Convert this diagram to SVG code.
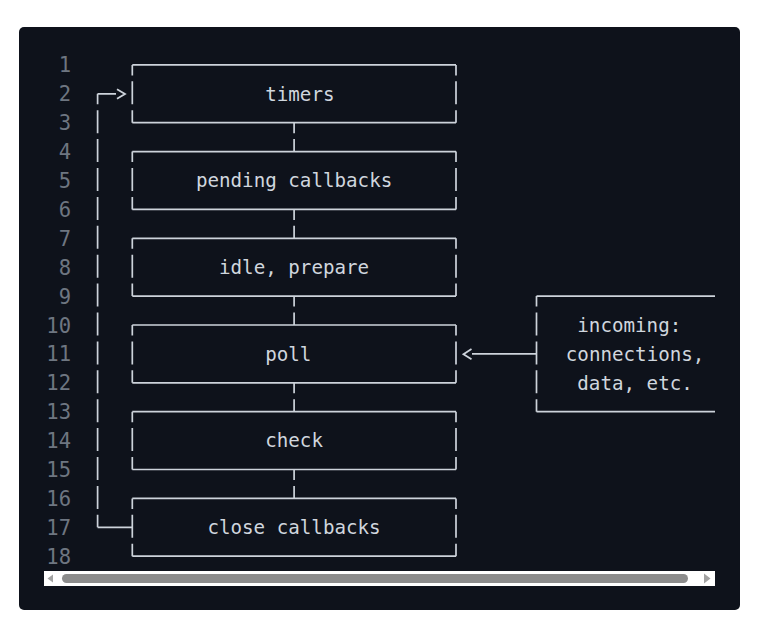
<svg xmlns="http://www.w3.org/2000/svg" width="765" height="636" viewBox="0 0 765 636">
<style>
.bg{fill:#0e121b}
.ln{font-family:"DejaVu Sans Mono","Liberation Mono",monospace;font-size:20.5px;fill:#6e7681;text-anchor:end}
.t{font-family:"DejaVu Sans Mono","Liberation Mono",monospace;font-size:19.2px;fill:#d0d6de}
.h{stroke:#cdd3db;stroke-width:1.7;fill:none}
.v{stroke:#cdd3db;stroke-width:1.7;fill:none;stroke-dasharray:23 5.9;stroke-dashoffset:12.5}
.ar{stroke:#cdd3db;stroke-width:1.8;fill:none;stroke-linejoin:miter}
</style>
<rect x="0" y="0" width="765" height="636" fill="#ffffff"/>
<rect class="bg" x="19" y="27" width="721" height="583" rx="5"/>
<g id="line-numbers">
<text class="ln" x="71" y="72.4">1</text>
<text class="ln" x="71" y="101.3">2</text>
<text class="ln" x="71" y="130.2">3</text>
<text class="ln" x="71" y="159.1">4</text>
<text class="ln" x="71" y="188">5</text>
<text class="ln" x="71" y="216.9">6</text>
<text class="ln" x="71" y="245.8">7</text>
<text class="ln" x="71" y="274.7">8</text>
<text class="ln" x="71" y="303.6">9</text>
<text class="ln" x="71" y="332.5">10</text>
<text class="ln" x="71" y="361.4">11</text>
<text class="ln" x="71" y="390.3">12</text>
<text class="ln" x="71" y="419.2">13</text>
<text class="ln" x="71" y="448.1">14</text>
<text class="ln" x="71" y="477">15</text>
<text class="ln" x="71" y="505.9">16</text>
<text class="ln" x="71" y="534.8">17</text>
<text class="ln" x="71" y="563.7">18</text>
</g>
<g id="timers">
<path class="h" d="M132.3 64.9H456M132.3 122.7H456"/>
<path class="v" d="M132.3 64.9V122.7M456 64.9V122.7"/>
<text class="t" x="265.2" y="100.6">timers</text>
</g>
<g id="pending-callbacks">
<path class="h" d="M132.3 151.6H456M132.3 209.4H456"/>
<path class="v" d="M132.3 151.6V209.4M456 151.6V209.4"/>
<text class="t" x="195.9" y="187.3">pending callbacks</text>
</g>
<g id="idle-prepare">
<path class="h" d="M132.3 238.3H456M132.3 296.1H456"/>
<path class="v" d="M132.3 238.3V296.1M456 238.3V296.1"/>
<text class="t" x="219" y="274">idle, prepare</text>
</g>
<g id="poll">
<path class="h" d="M132.3 325H456M132.3 382.8H456"/>
<path class="v" d="M132.3 325V382.8M456 325V382.8"/>
<text class="t" x="265.2" y="360.7">poll</text>
</g>
<g id="check">
<path class="h" d="M132.3 411.7H456M132.3 469.5H456"/>
<path class="v" d="M132.3 411.7V469.5M456 411.7V469.5"/>
<text class="t" x="265.2" y="447.4">check</text>
</g>
<g id="close-callbacks">
<path class="h" d="M132.3 498.4H456M132.3 556.2H456"/>
<path class="v" d="M132.3 498.4V556.2M456 498.4V556.2"/>
<text class="t" x="207.4" y="534.1">close callbacks</text>
</g>
<g id="incoming">
<path class="h" d="M536.5 296.1H715M536.5 411.7H715"/>
<path class="v" d="M536.5 296.1V411.7"/>
<text class="t" x="577.3" y="331.8">incoming:</text>
<text class="t" x="565.8" y="360.7">connections,</text>
<text class="t" x="577.3" y="389.6">data, etc.</text>
</g>
<g id="connectors">
<path class="v" d="M294.1 122.7V151.6M294.1 209.4V238.3M294.1 296.1V325M294.1 382.8V411.7M294.1 469.5V498.4"/>
<path class="v" d="M97.6 93.8V527.3"/>
<path class="h" d="M97.6 93.8H116M97.6 527.3H132.3"/>
<polyline class="ar" points="117,89.2 125,94 117,98.8"/>
<path class="h" d="M472 353.9H536.5"/>
<polyline class="ar" points="471.5,349.1 463.5,354.2 471.5,359.3"/>
</g>
<g id="scrollbar">
<rect x="44" y="571" width="671" height="15" fill="#ffffff"/>
<rect x="62" y="574" width="626" height="9" rx="4.5" fill="#8c8c8c"/>
<polygon points="47.5,578.5 53,574.5 53,582.5" fill="#a3a3a3"/>
<polygon points="710.5,578.5 704,573.5 704,583.5" fill="#a3a3a3"/>
</g>
</svg>
